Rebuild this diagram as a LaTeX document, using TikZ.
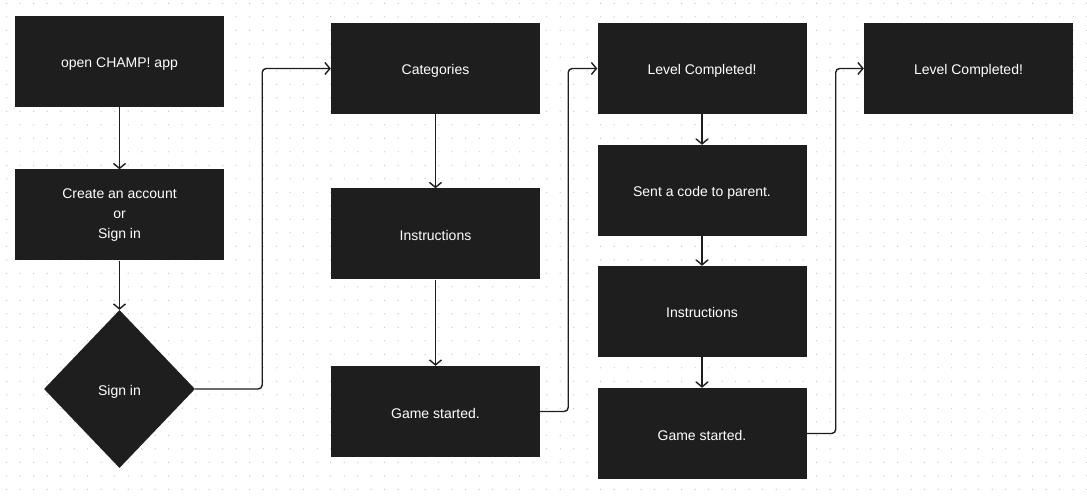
\documentclass[tikz,border=0pt]{standalone}
\usepackage{fontspec}
\setmainfont{Liberation Sans}
\usepackage{tikz}
\usetikzlibrary{arrows.meta,shapes.geometric}
\definecolor{boxfill}{HTML}{1E1E1E}
\definecolor{griddot}{HTML}{C8C8C8}
\definecolor{wire}{HTML}{1E1E1E}

\begin{document}
\begin{tikzpicture}[x=1pt,y=-1pt,
  stepbox/.style={fill=boxfill,text=white,minimum width=209pt,minimum height=91pt,
    inner sep=0pt,align=center,text height=16pt,text depth=3pt,
    font=\fontsize{14}{20}\selectfont},
  choice/.style={diamond,fill=boxfill,text=white,minimum width=151pt,minimum height=158pt,
    inner sep=0pt,text height=16pt,text depth=3pt,font=\fontsize{14}{20}\selectfont},
  flow/.style={draw=wire,line width=1.4pt,-{Straight Barb[length=5pt,width=12pt]}},
  link/.style={flow,rounded corners=4pt}]
\useasboundingbox (0,0) rectangle (1087,502);
\fill[white] (0,0) rectangle (1087,502);
% dot grid
\foreach \i in {0,...,80}{
  \foreach \j in {0,...,37}{
    \fill[griddot] ({6.7+13.5*\i},{3.3+13.5*\j}) circle (0.7);
  }
}
% first column
\node[stepbox] (open) at (119.5,61.5) {open CHAMP! app};
\node[stepbox,text height=,text depth=] (account) at (119.5,215) {Create an account\\or\\Sign in};
\node[choice] (signin) at (119.5,389) {Sign in};
% second column
\node[stepbox] (cat) at (435.5,68.5) {Categories};
\node[stepbox] (instr) at (435.5,234) {Instructions};
\node[stepbox] (game) at (435.5,411.5) {Game started.};
% third column
\node[stepbox] (done) at (702,68.5) {Level Completed!};
\node[stepbox] (code) at (702,190.5) {Sent a code to parent.};
\node[stepbox] (instrb) at (702,311.5) {Instructions};
\node[stepbox] (gameb) at (702,433.5) {Game started.};
% last column
\node[stepbox] (doneb) at (968.5,68.5) {Level Completed!};

\draw[flow] (open) -- (account);
\draw[flow] (account) -- (signin);
\draw[link] (signin.east) -- ++(67,0) |- (cat.west);
\draw[flow] (cat) -- (instr);
\draw[flow] (instr) -- (game);
\draw[link] (game.east) -- ++(28,0) |- (done.west);
\draw[flow] (done) -- (code);
\draw[flow] (code) -- (instrb);
\draw[flow] (instrb) -- (gameb);
\draw[link] (gameb.east) -- ++(29,0) |- (doneb.west);
\end{tikzpicture}
\end{document}
